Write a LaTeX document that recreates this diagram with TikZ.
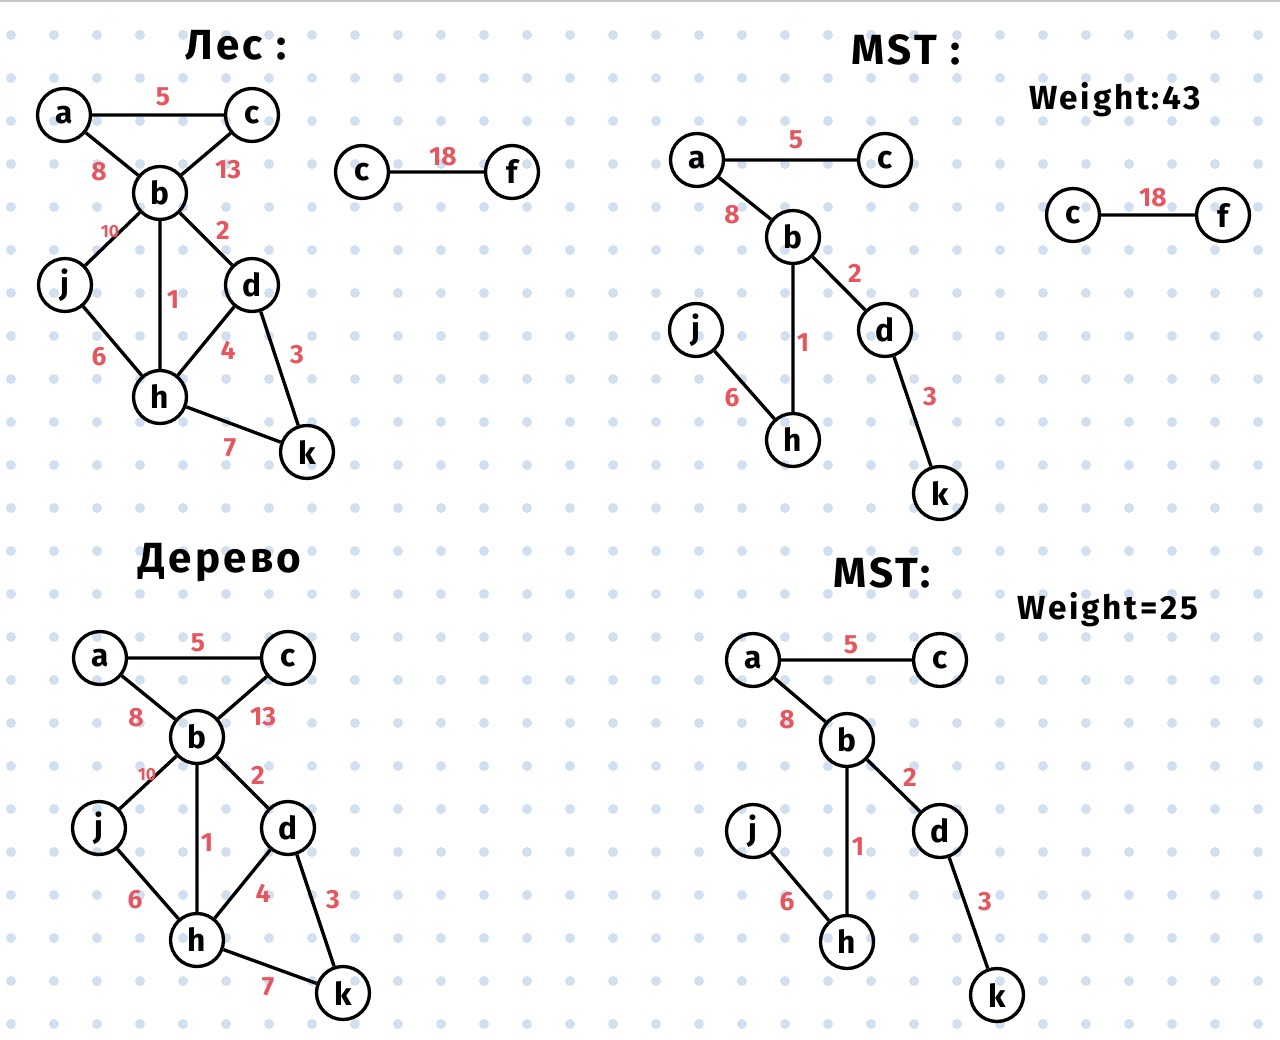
\documentclass[tikz,border=0pt]{standalone}
\usepackage{fontspec}
\setmainfont{Fira Sans}
\newfontfamily\titlefont[LetterSpace=8]{Fira Sans}
\definecolor{dotblue}{RGB}{208,224,240}
\definecolor{lblred}{RGB}{229,86,94}
\begin{document}
\begin{tikzpicture}[x=0.02cm,y=-0.02cm,
  vert/.style={circle,draw,line width=1.9pt,minimum size=1.06cm,inner sep=0pt,font=\bfseries\fontsize{18}{18}\selectfont},
  edge/.style={line width=1.9pt},
  wlbl/.style={text=lblred,font=\bfseries\fontsize{15}{15}\selectfont,inner sep=0pt},
  wsmall/.style={text=lblred,font=\bfseries\fontsize{10}{10}\selectfont,inner sep=0pt},
  ttl/.style={font=\titlefont\bfseries\fontsize{24}{24}\selectfont,inner sep=0pt},
  wtl/.style={font=\titlefont\bfseries\fontsize{19}{19}\selectfont,inner sep=0pt}]
\fill[white] (0,0) rectangle (1280,1040);
\useasboundingbox (0,0) rectangle (1280,1040);
\draw[black!22,line width=1.2pt] (0,1) -- (1280,1);
\foreach \i in {0,...,29} \foreach \j in {0,...,23} \fill[dotblue] ({11+43*\i},{35+43*\j}) circle (0.1cm);

% ---------- top-left: forest ----------
\node[ttl] (T1) at (236,45) {Лес :};
\node[vert] (A1) at (64,115) {a};
\node[vert] (C1) at (252,115) {c};
\node[vert] (B1) at (160,193) {b};
\node[vert] (J1) at (65,285) {j};
\node[vert] (D1) at (252,285) {d};
\node[vert] (H1) at (160,397) {h};
\node[vert] (K1) at (307,452) {k};
\node[vert] (C1b) at (362,172) {c};
\node[vert] (F1) at (512,172) {f};
\draw[edge] (A1)--(C1) (A1)--(B1) (C1)--(B1) (B1)--(J1) (B1)--(H1) (B1)--(D1)
  (J1)--(H1) (D1)--(H1) (D1)--(K1) (H1)--(K1) (C1b)--(F1);
\node[wlbl] (l1a) at (163,97) {5};
\node[wlbl] (l1b) at (99,172) {8};
\node[wlbl] (l1c) at (228,170) {13};
\node[wsmall] (l1d) at (110,232) {10};
\node[wlbl] (l1e) at (223,230) {2};
\node[wlbl] (l1f) at (173,300) {1};
\node[wlbl] (l1g) at (99,357) {6};
\node[wlbl] (l1h) at (228,350) {4};
\node[wlbl] (l1i) at (297,355) {3};
\node[wlbl] (l1j) at (230,448) {7};
\node[wlbl] (l1k) at (443,157) {18};

% ---------- top-right: MST ----------
\node[ttl] (T2) at (906,50) {MST :};
\node[wtl] (W2) at (1115,100) {Weight:43};
\node[vert] (A2) at (697,160) {a};
\node[vert] (C2) at (885,160) {c};
\node[vert] (B2) at (793,237) {b};
\node[vert] (J2) at (696,330) {j};
\node[vert] (D2) at (885,330) {d};
\node[vert] (H2) at (793,440) {h};
\node[vert] (K2) at (940,493) {k};
\node[vert] (C2b) at (1073,215) {c};
\node[vert] (F2) at (1223,215) {f};
\draw[edge] (A2)--(C2) (A2)--(B2) (B2)--(D2) (B2)--(H2) (J2)--(H2) (D2)--(K2) (C2b)--(F2);
\node[wlbl] (l2a) at (796,140) {5};
\node[wlbl] (l2b) at (732,215) {8};
\node[wlbl] (l2c) at (855,273) {2};
\node[wlbl] (l2d) at (803,343) {1};
\node[wlbl] (l2e) at (732,398) {6};
\node[wlbl] (l2f) at (930,397) {3};
\node[wlbl] (l2g) at (1153,198) {18};

% ---------- bottom-left: tree ----------
\node[ttl] (T3) at (220,563) {Дерево};
\node[vert] (A3) at (100,658) {a};
\node[vert] (C3) at (288,658) {c};
\node[vert] (B3) at (197,737) {b};
\node[vert] (J3) at (99,828) {j};
\node[vert] (D3) at (288,828) {d};
\node[vert] (H3) at (197,940) {h};
\node[vert] (K3) at (343,993) {k};
\draw[edge] (A3)--(C3) (A3)--(B3) (C3)--(B3) (B3)--(J3) (B3)--(H3) (B3)--(D3)
  (J3)--(H3) (D3)--(H3) (D3)--(K3) (H3)--(K3);
\node[wlbl] (l3a) at (198,643) {5};
\node[wlbl] (l3b) at (136,718) {8};
\node[wlbl] (l3c) at (263,717) {13};
\node[wsmall] (l3d) at (147,775) {10};
\node[wlbl] (l3e) at (258,775) {2};
\node[wlbl] (l3f) at (207,843) {1};
\node[wlbl] (l3g) at (135,900) {6};
\node[wlbl] (l3h) at (263,893) {4};
\node[wlbl] (l3i) at (333,900) {3};
\node[wlbl] (l3j) at (268,987) {7};

% ---------- bottom-right: MST ----------
\node[ttl] (T4) at (882,573) {MST:};
\node[wtl] (W4) at (1108,610) {Weight=25};
\node[vert] (A4) at (753,660) {a};
\node[vert] (C4) at (940,660) {c};
\node[vert] (B4) at (847,740) {b};
\node[vert] (J4) at (753,831) {j};
\node[vert] (D4) at (940,831) {d};
\node[vert] (H4) at (847,942) {h};
\node[vert] (K4) at (997,995) {k};
\draw[edge] (A4)--(C4) (A4)--(B4) (B4)--(D4) (B4)--(H4) (J4)--(H4) (D4)--(K4);
\node[wlbl] (l4a) at (851,645) {5};
\node[wlbl] (l4b) at (787,720) {8};
\node[wlbl] (l4c) at (910,777) {2};
\node[wlbl] (l4d) at (858,847) {1};
\node[wlbl] (l4e) at (787,902) {6};
\node[wlbl] (l4f) at (985,902) {3};
\end{tikzpicture}
\end{document}
